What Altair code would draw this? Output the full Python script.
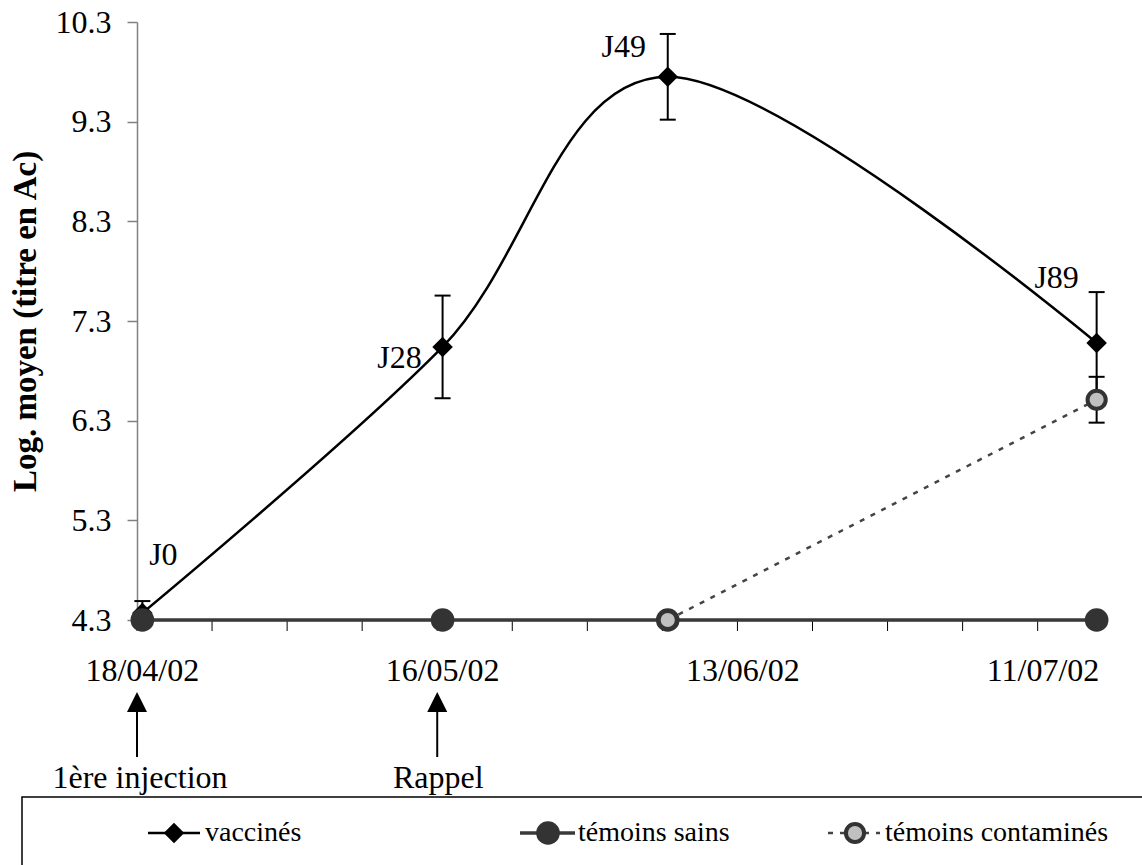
import altair as alt
import pandas as pd

# ---------------- data ----------------
start = "2002-04-18"
dates = ["2002-04-18", "2002-05-16", "2002-06-06", "2002-07-16"]
day_labels = ["J0", "J28", "J49", "J89"]
vaccines = [4.37, 7.04, 9.75, 7.08]
vaccines_err = [0.12, 0.515, 0.43, 0.51]
sains = [4.3, 4.3, 4.3, 4.3]
contam_dates = ["2002-06-06", "2002-07-16"]
contam = [4.3, 6.51]
contam_err = [0.0, 0.23]

tick_dates = ["2002-04-18", "2002-05-16", "2002-06-13", "2002-07-11"]
tick_labels = ["18/04/02", "16/05/02", "13/06/02", "11/07/02"]
minor_step_days = 7
axis_end_days = 90

arrow_dates = ["2002-04-18", "2002-05-16"]
arrow_texts = ["1ère injection", "Rappel"]

y_ticks = [4.3, 5.3, 6.3, 7.3, 8.3, 9.3, 10.3]

FONT = "Liberation Serif"
FS = 32
LFS = 28
W, H = 965, 598


def days(d):
    return (pd.to_datetime(d) - pd.to_datetime(start)).days


# Excel date axis places points in the middle of each day (+0.5)
vac_df = pd.DataFrame({
    "pos": [days(d) + 0.5 for d in dates],
    "v": vaccines,
    "lo": [v - e for v, e in zip(vaccines, vaccines_err)],
    "hi": [v + e for v, e in zip(vaccines, vaccines_err)],
    "lab": day_labels,
})
sain_df = pd.DataFrame({"pos": [days(d) + 0.5 for d in dates], "v": sains})
con_df = pd.DataFrame({
    "pos": [days(d) + 0.5 for d in contam_dates],
    "v": contam,
    "lo": [v - e for v, e in zip(contam, contam_err)],
    "hi": [v + e for v, e in zip(contam, contam_err)],
})
con_err_df = con_df[con_df["hi"] > con_df["lo"]]
minor_df = pd.DataFrame({"pos": list(range(0, axis_end_days, minor_step_days))})
arrow_df = pd.DataFrame({"pos": [days(d) for d in arrow_dates], "t": arrow_texts})
xlab_df = pd.DataFrame({"pos": [days(d) + 0.5 for d in tick_dates], "t": tick_labels})
one = pd.DataFrame({"a": [0]})

xs = alt.Scale(domain=[0, axis_end_days], nice=False, zero=False)
ys = alt.Scale(domain=[4.3, 10.3], nice=False, zero=False)

X = alt.X("pos:Q", scale=xs, axis=alt.Axis(
    labels=False, ticks=False, grid=False, domainColor="#808080",
    domainWidth=1.5, title=None))
Y = alt.Y("v:Q", scale=ys, axis=alt.Axis(
    values=y_ticks, format=".1f", grid=False, tickSize=10, tickColor="#808080",
    tickWidth=1.5, domainColor="#808080", domainWidth=1.5, labelFont=FONT,
    labelFontSize=FS, labelColor="black", labelPadding=16,
    title="Log. moyen (titre en Ac)", titleFont=FONT, titleFontSize=33,
    titleFontWeight="bold", titleColor="black", titlePadding=13))

# minor/major x tick marks (below axis)
ticks = alt.Chart(minor_df).mark_rule(color="black", strokeWidth=1).encode(
    x=X, y=alt.value(H), y2=alt.value(H + 11))
xlabels = alt.Chart(xlab_df).mark_text(
    font=FONT, fontSize=FS, color="black", align="center", baseline="middle"
).encode(x=X, y=alt.value(H + 51), text="t:N")

vac_line = alt.Chart(vac_df).mark_line(
    color="black", strokeWidth=2.5, interpolate="cardinal").encode(x=X, y=Y)
vac_err = alt.Chart(vac_df).mark_rule(color="black", strokeWidth=2).encode(
    x=X, y="lo:Q", y2="hi:Q")
vac_cap_hi = alt.Chart(vac_df).mark_rule(
    color="black", strokeWidth=2, xOffset=-8, x2Offset=8).encode(
    x=X, x2="pos:Q", y="hi:Q")
vac_cap_lo = alt.Chart(vac_df).mark_rule(
    color="black", strokeWidth=2, xOffset=-8, x2Offset=8).encode(
    x=X, x2="pos:Q", y="lo:Q")
vac_pts = alt.Chart(vac_df).mark_point(
    shape="diamond", filled=True, color="black", size=420, opacity=1).encode(
    x=X, y="v:Q")

sain_line = alt.Chart(sain_df).mark_line(color="#3a3a3a", strokeWidth=3.5).encode(
    x=X, y="v:Q")
sain_pts = alt.Chart(sain_df).mark_point(
    shape="circle", filled=True, color="#333333", size=560, opacity=1).encode(
    x=X, y="v:Q")

con_line = alt.Chart(con_df).mark_line(
    color="#444444", strokeWidth=2.5, strokeDash=[5, 7]).encode(x=X, y="v:Q")
con_err = alt.Chart(con_err_df).mark_rule(color="black", strokeWidth=2).encode(
    x=X, y="lo:Q", y2="hi:Q")
con_cap_hi = alt.Chart(con_err_df).mark_rule(
    color="black", strokeWidth=2, xOffset=-8, x2Offset=8).encode(
    x=X, x2="pos:Q", y="hi:Q")
con_cap_lo = alt.Chart(con_err_df).mark_rule(
    color="black", strokeWidth=2, xOffset=-8, x2Offset=8).encode(
    x=X, x2="pos:Q", y="lo:Q")
con_pts = alt.Chart(con_df).mark_point(
    shape="circle", filled=True, fill="#c0c0c0", stroke="#333333",
    strokeWidth=4, size=330, opacity=1).encode(x=X, y="v:Q")

# day annotations
offsets = {"J0": (21, -58), "J28": (-43, 11), "J49": (-44, -30), "J89": (-40, -65)}
ann = []
for lab, (dx, dy) in offsets.items():
    ann.append(alt.Chart(vac_df[vac_df["lab"] == lab]).mark_text(
        font=FONT, fontSize=FS, color="black", dx=dx, dy=dy,
        align="center", baseline="middle").encode(
        x=X, y="v:Q", text="lab:N"))

# arrows & captions under the axis
arrow_shaft = alt.Chart(arrow_df).mark_rule(color="black", strokeWidth=2).encode(
    x=X, y=alt.value(688), y2=alt.value(735))
arrow_head = alt.Chart(arrow_df).mark_point(
    shape="M0,-1L1,1L-1,1Z", filled=True, color="black", size=400, opacity=1
).encode(x=X, y=alt.value(680))
arrow_text1 = alt.Chart(arrow_df.iloc[[0]]).mark_text(
    font=FONT, fontSize=FS, color="black", align="center", baseline="middle", dx=3
).encode(x=X, y=alt.value(756), text="t:N")
arrow_text2 = alt.Chart(arrow_df.iloc[[1]]).mark_text(
    font=FONT, fontSize=FS, color="black", align="center", baseline="middle", dx=1
).encode(x=X, y=alt.value(756), text="t:N")

# manual legend (Excel style box)
LY = 811
legend_box = alt.Chart(one).mark_rect(
    fill="white", stroke="black", strokeWidth=1.5).encode(
    x=alt.value(-115), x2=alt.value(1030), y=alt.value(775), y2=alt.value(870))
leg = [
    alt.Chart(one).mark_rule(color="black", strokeWidth=2.5).encode(
        x=alt.value(11), x2=alt.value(63), y=alt.value(LY)),
    alt.Chart(one).mark_point(shape="diamond", filled=True, color="black",
                              size=420, opacity=1).encode(
        x=alt.value(37), y=alt.value(LY)),
    alt.Chart(one).mark_text(font=FONT, fontSize=LFS, align="left",
                             baseline="middle", color="black",
                             text="vaccinés").encode(
        x=alt.value(68), y=alt.value(LY)),
    alt.Chart(one).mark_rule(color="#3a3a3a", strokeWidth=3.5).encode(
        x=alt.value(383), x2=alt.value(438), y=alt.value(LY)),
    alt.Chart(one).mark_point(shape="circle", filled=True, color="#333333",
                              size=560, opacity=1).encode(
        x=alt.value(411), y=alt.value(LY)),
    alt.Chart(one).mark_text(font=FONT, fontSize=LFS, align="left",
                             baseline="middle", color="black",
                             text="témoins sains").encode(
        x=alt.value(441), y=alt.value(LY)),
    alt.Chart(one).mark_rule(color="#444444", strokeWidth=2.5,
                             strokeDash=[5, 7]).encode(
        x=alt.value(691), x2=alt.value(743), y=alt.value(LY)),
    alt.Chart(one).mark_point(shape="circle", filled=True, fill="#c0c0c0",
                              stroke="#333333", strokeWidth=4, size=330,
                              opacity=1).encode(
        x=alt.value(718), y=alt.value(LY)),
    alt.Chart(one).mark_text(font=FONT, fontSize=LFS, align="left",
                             baseline="middle", color="black",
                             text="témoins contaminés").encode(
        x=alt.value(748), y=alt.value(LY)),
]

chart = alt.layer(
    vac_line, ticks, xlabels, vac_err, vac_cap_hi, vac_cap_lo, vac_pts,
    sain_line, sain_pts,
    con_line, con_err, con_cap_hi, con_cap_lo, con_pts,
    *ann, arrow_shaft, arrow_head, arrow_text1, arrow_text2,
    legend_box, *leg,
).properties(
    width=W, height=H,
    autosize=alt.AutoSizeParams(type="none"),
    padding={"left": 137, "top": 22, "right": 40, "bottom": 245},
    background="white",
).configure_view(stroke=None)

chart.save("out.html", embed_options={"renderer": "svg", "actions": False})
